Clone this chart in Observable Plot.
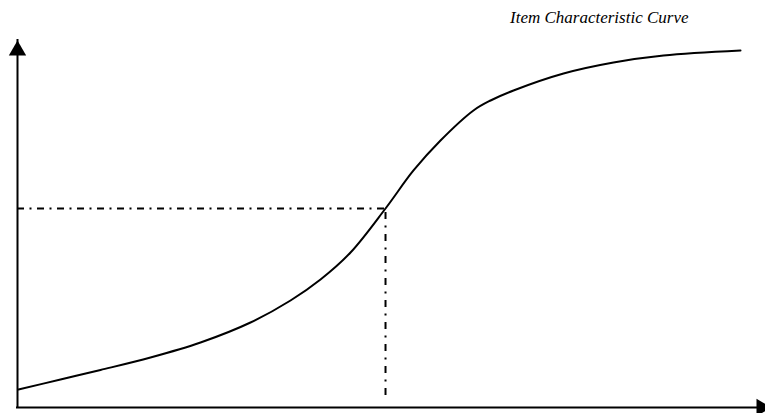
<!DOCTYPE html>
<html>
<head>
<meta charset="utf-8">
<script src="https://cdn.jsdelivr.net/npm/d3@7"></script>
<script src="https://cdn.jsdelivr.net/npm/@observablehq/plot@0.6"></script>
<style>
  html, body { margin: 0; padding: 0; background: white; }
</style>
</head>
<body>
<div id="chart"></div>
<script>
// Item characteristic curve
const ability = [0.13, 5.75, 11.1, 17.78, 24.47, 31.15, 36.5, 40.51, 44.52, 49.2, 52.94, 56.55, 60.96, 63.24, 66.31, 73.0, 79.68, 86.36, 96.66];
const probability = [0.049, 0.0763, 0.1022, 0.1362, 0.1771, 0.2316, 0.2916, 0.3488, 0.4223, 0.5422, 0.6458, 0.7275, 0.8093, 0.8365, 0.8638, 0.9101, 0.9401, 0.9591, 0.9728];
const difficulty = 49.2;      // ability at the marked point
const markedProb = 0.5422;    // probability at the marked point
const xExtent = [0, 100];
const yExtent = [0, 1];
const title = "Item Characteristic Curve";

const curve = ability.map((a, i) => ({a, p: probability[i]}));

const chart = Plot.plot({
  width: 765,
  height: 413,
  marginLeft: 17,
  marginRight: 0,
  marginTop: 40,
  marginBottom: 6,
  style: {background: "white"},
  x: {domain: xExtent, axis: null},
  y: {domain: yExtent, axis: null},
  marks: [
    // axes
    Plot.ruleX([xExtent[0]], {y1: yExtent[0], y2: yExtent[1], stroke: "black", strokeWidth: 2, strokeLinecap: "square"}),
    Plot.ruleY([yExtent[0]], {x1: xExtent[0], x2: xExtent[1], stroke: "black", strokeWidth: 2, strokeLinecap: "square"}),
    // arrowheads
    Plot.dot([[xExtent[0], yExtent[1]]], {x: d => d[0], y: d => d[1], symbol: "triangle", r: 6.43, fill: "black", stroke: "none", dy: 10}),
    Plot.dot([[xExtent[1], yExtent[0]]], {x: d => d[0], y: d => d[1], symbol: "triangle", r: 6.43, fill: "black", stroke: "none", rotate: 90, dx: -4}),
    // dash-dot guide lines
    Plot.ruleY([markedProb], {x1: xExtent[0], x2: difficulty, stroke: "black", strokeWidth: 2, strokeDasharray: "7,5.5,2,5.5"}),
    Plot.ruleX([difficulty], {y1: 0.033, y2: markedProb, stroke: "black", strokeWidth: 2, strokeDasharray: "7,6.5,2,6.5"}),
    // the curve
    Plot.line(curve, {x: "a", y: "p", curve: "catmull-rom", stroke: "black", strokeWidth: 2}),
    // title
    Plot.text([title], {frameAnchor: "top-right", text: d => d, textAnchor: "end", lineAnchor: "bottom", dx: -77, dy: -18, fontFamily: "'Liberation Serif', 'Times New Roman', 'DejaVu Serif', serif", fontStyle: "italic", fontSize: 17, fill: "black"})
  ]
});
document.getElementById("chart").appendChild(chart);
</script>
</body>
</html>
